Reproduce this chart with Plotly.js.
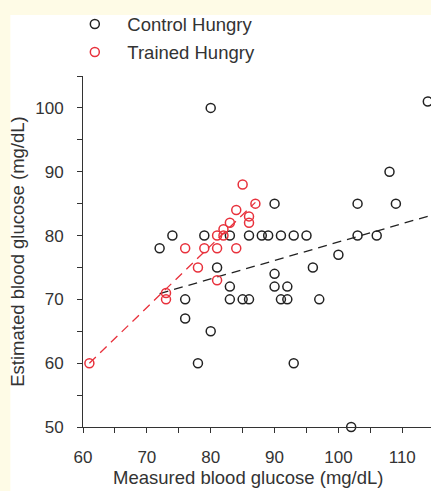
<!DOCTYPE html>
<html>
<head>
<meta charset="utf-8">
<script src="https://cdn.plot.ly/plotly-3.0.1.min.js"></script>
<style>
  html, body { margin: 0; padding: 0; background: #fefbe6; width: 431px; height: 491px; overflow: hidden; }
  #chart { position: absolute; left: 0; top: 0; width: 431px; height: 491px; }
</style>
</head>
<body>
<div id="chart"></div>
<script>
// Control Hungry: measured vs estimated
const controlX = [80, 72, 74, 79, 83, 86, 88, 89, 91, 93, 95, 103, 106, 81, 83, 76, 83, 85, 86, 76, 80, 78, 90, 90, 92, 91, 92, 96, 97, 93, 102, 114, 108, 90, 103, 109, 100];
const controlY = [100, 78, 80, 80, 80, 80, 80, 80, 80, 80, 80, 80, 80, 75, 72, 70, 70, 70, 70, 67, 65, 60, 74, 72, 72, 70, 70, 75, 70, 60, 50, 101, 90, 85, 85, 85, 77];
// Trained Hungry
const trainedX = [85, 87, 84, 86, 86, 83, 82, 81, 82, 76, 79, 81, 84, 78, 81, 73, 73, 61];
const trainedY = [88, 85, 84, 83, 82, 82, 81, 80, 80, 78, 78, 78, 78, 75, 73, 71, 70, 60];
// Fit lines (end points)
const controlFitX = [72, 116];
const controlFitY = [70.9, 83.6];
const trainedFitX = [61, 87];
const trainedFitY = [60, 85.2];

const xTitle = 'Measured blood glucose (mg/dL)';
const yTitle = 'Estimated blood glucose (mg/dL)';

const black = '#222222';
const red = '#e8313c';
const font = 'Liberation Sans, Arial, sans-serif';

const traces = [
  {x: controlFitX, y: controlFitY, mode: 'lines', type: 'scatter', showlegend: false,
   line: {color: black, width: 1.3, dash: '9px,6px'}, hoverinfo: 'skip'},
  {x: trainedFitX, y: trainedFitY, mode: 'lines', type: 'scatter', showlegend: false,
   line: {color: red, width: 1.3, dash: '9px,6px'}, hoverinfo: 'skip'},
  {x: controlX, y: controlY, mode: 'markers', type: 'scatter', name: 'Control Hungry', legendgroup: 'a',
   marker: {symbol: 'circle-open', size: 9, color: black, line: {width: 1.5, color: black}}, cliponaxis: false},
  {x: trainedX, y: trainedY, mode: 'markers', type: 'scatter', name: 'Trained Hungry', legendgroup: 'b',
   marker: {symbol: 'circle-open', size: 9, color: red, line: {width: 1.5, color: red}}, cliponaxis: false}
];

const L = 82.7, T = 76, B = 64.3, W = 431, H = 491;
const pw = W - L, ph = H - T - B;

const layout = {
  width: W, height: H,
  margin: {l: L, r: 0, t: T, b: B, pad: 0, autoexpand: false},
  paper_bgcolor: '#fefbe6',
  plot_bgcolor: '#ffffff',
  font: {family: font, size: 17, color: '#333333'},
  showlegend: true,
  shapes: [{type: 'rect', xref: 'paper', yref: 'paper', layer: 'below',
            x0: (10 - L) / pw, x1: 1.05, y0: -B / ph - 0.05, y1: 1 + (T - 15) / ph,
            fillcolor: '#ffffff', line: {width: 0}}],
  annotations: [{text: xTitle, xref: 'paper', yref: 'paper', x: (248 - L) / pw, y: -(477 - (T + ph)) / ph,
                 xanchor: 'center', yanchor: 'middle', showarrow: false,
                 font: {family: font, size: 18.5, color: '#333'}}],
  legend: {x: (62 - L) / pw, y: 1.201, xanchor: 'left', yanchor: 'top', bgcolor: 'rgba(0,0,0,0)',
           font: {family: font, size: 18.5, color: '#333333'}, traceorder: 'grouped', tracegroupgap: 1,
           itemwidth: 55},
  xaxis: {
    range: [60, 114.5], showgrid: false, zeroline: false, showline: true, linecolor: '#333', linewidth: 1,
    ticks: 'outside', ticklen: 5, tickcolor: '#333', tickwidth: 1, dtick: 10, tick0: 60,
    minor: {dtick: 5, tick0: 60, ticks: 'outside', ticklen: 5, tickcolor: '#333', showgrid: false},
    tickfont: {family: font, size: 17, color: '#333'}, ticklabelstandoff: 10
  },
  yaxis: {
    range: [50, 105], showgrid: false, zeroline: false, showline: true, linecolor: '#333', linewidth: 1,
    ticks: 'outside', ticklen: 5, tickcolor: '#333', tickwidth: 1, dtick: 10, tick0: 50,
    minor: {dtick: 5, tick0: 50, ticks: 'outside', ticklen: 5, tickcolor: '#333', showgrid: false},
    tickfont: {family: font, size: 17, color: '#333'}, ticklabelstandoff: 10,
    title: {text: yTitle, font: {family: font, size: 18.5, color: '#333'}, standoff: 5}
  }
};

Plotly.newPlot('chart', traces, layout, {displayModeBar: false, staticPlot: true});
</script>
</body>
</html>
